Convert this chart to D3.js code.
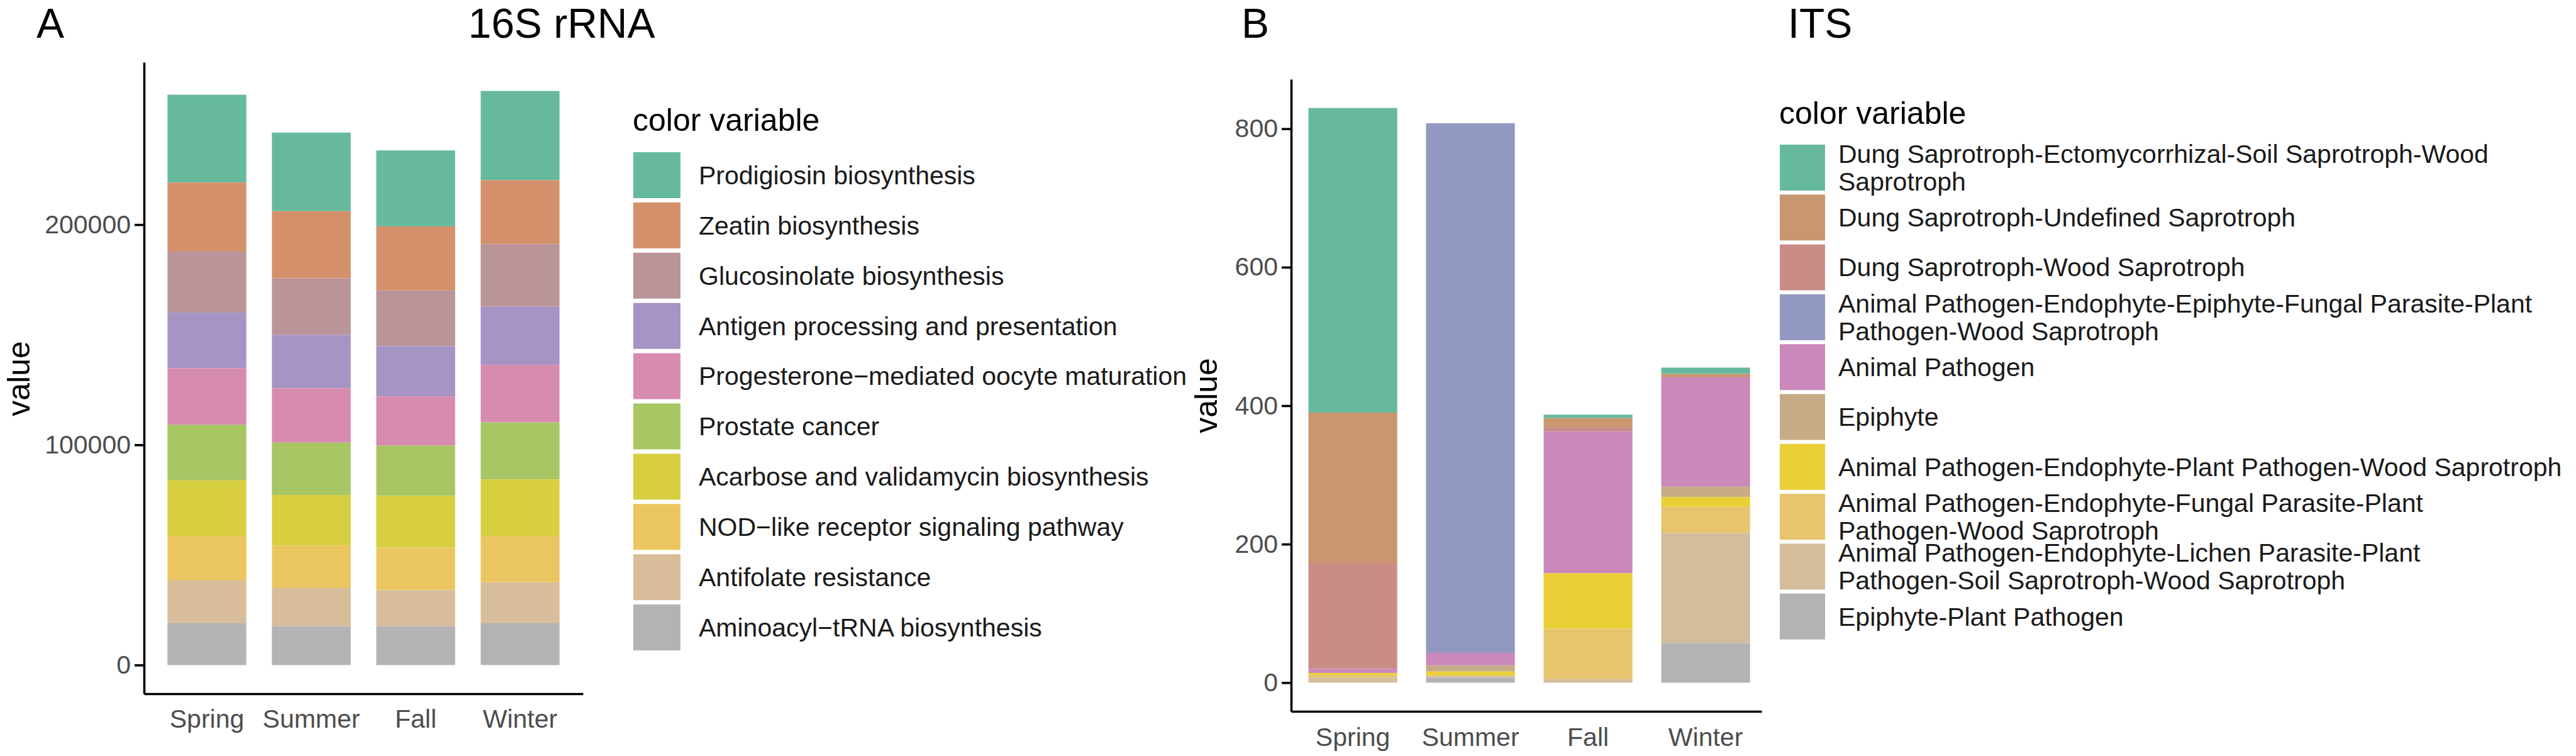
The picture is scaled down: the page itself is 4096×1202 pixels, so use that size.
<!DOCTYPE html>
<html>
<head>
<meta charset="utf-8">
<script src="https://cdn.jsdelivr.net/npm/d3@7"></script>
<style>
body { margin: 0; background: #fff; }
svg { display: block; }
text { font-family: "Liberation Sans", Arial, sans-serif; }
</style>
</head>
<body>
<svg id="chart" width="4096" height="1202"></svg>
<script>
// DATA
var seasons = ["Spring", "Summer", "Fall", "Winter"];

// panel A - 16S rRNA pathways (first one sits on top of the stack)
var pathways = [
  "Prodigiosin biosynthesis",
  "Zeatin biosynthesis",
  "Glucosinolate biosynthesis",
  "Antigen processing and presentation",
  "Progesterone\u2212mediated oocyte maturation",
  "Prostate cancer",
  "Acarbose and validamycin biosynthesis",
  "NOD\u2212like receptor signaling pathway",
  "Antifolate resistance",
  "Aminoacyl\u2212tRNA biosynthesis"
];
var pathwayColors = ["#66BA9B", "#D4906B", "#B99498", "#A594C4", "#D78BAE",
                     "#A8C664", "#D8CF40", "#EBC660", "#D7BD9A", "#B3B3B3"];
// one row per pathway, columns = seasons
var pathwayValues = [
  [39900, 35700, 34500, 40500],
  [31300, 30500, 29100, 29100],
  [27700, 25700, 25300, 28300],
  [25300, 24200, 22800, 26500],
  [25700, 24700, 22400, 26100],
  [25200, 23800, 22800, 25900],
  [25300, 23000, 23400, 25700],
  [20200, 19200, 19400, 21000],
  [19400, 17400, 16400, 18600],
  [19000, 17600, 17600, 19000]
];
var rnaTicks = [0, 100000, 200000];

// panel B - ITS guilds ("\n" = line break in legend)
var guilds = [
  "Dung Saprotroph-Ectomycorrhizal-Soil Saprotroph-Wood\nSaprotroph",
  "Dung Saprotroph-Undefined Saprotroph",
  "Dung Saprotroph-Wood Saprotroph",
  "Animal Pathogen-Endophyte-Epiphyte-Fungal Parasite-Plant\nPathogen-Wood Saprotroph",
  "Animal Pathogen",
  "Epiphyte",
  "Animal Pathogen-Endophyte-Plant Pathogen-Wood Saprotroph",
  "Animal Pathogen-Endophyte-Fungal Parasite-Plant\nPathogen-Wood Saprotroph",
  "Animal Pathogen-Endophyte-Lichen Parasite-Plant\nPathogen-Soil Saprotroph-Wood Saprotroph",
  "Epiphyte-Plant Pathogen"
];
var guildColors = ["#66BA9B", "#C99670", "#C98D86", "#9298C1", "#CA88BB",
                   "#C5AC86", "#EACF37", "#E7C46E", "#D5BC9B", "#B3B3B3"];
var guildValues = [
  [440, 0, 5, 9],
  [218, 0, 13, 5],
  [152, 0, 6, 0],
  [0, 765, 0, 0],
  [6, 18, 205, 158],
  [0, 9, 0, 15],
  [3, 6, 80, 14],
  [4, 0, 73, 38],
  [7, 3, 5, 159],
  [0, 7, 0, 57]
];
var itsTicks = [0, 200, 400, 600, 800];

// SIZES / LOOK
var tickFont = 41;
var titleFont = 50;
var headFont = 66;
var axisWidth = 3.6;
var tickGrey = "#4D4D4D";
var keyH = 73;
var labelLine = 44; // line height of wrapped legend labels

var svg = d3.select("#chart");

function buildRows(names, values){
  return seasons.map(function(s, j){
    var row = {season: s};
    names.forEach(function(n, i){ row[n] = values[i][j]; });
    return row;
  });
}

function drawPanel(p){
  var rows = buildRows(p.names, p.values);
  var totals = rows.map(function(r){ return d3.sum(p.names, function(n){ return r[n]; }); });
  var maxV = d3.max(totals);

  var x = d3.scaleBand().domain(seasons)
    .range([p.left, p.right])
    .paddingInner(0.245).paddingOuter(p.outer).align(p.align);
  var y = d3.scaleLinear().domain([-0.05 * maxV, 1.05 * maxV]).range([p.bottom, p.top]);
  var color = d3.scaleOrdinal().domain(p.names).range(p.colors);

  // first key on top of the stack
  var series = d3.stack().keys(p.names).order(d3.stackOrderReverse)(rows);

  var g = svg.append("g");
  g.selectAll("g.layer")
    .data(series)
    .enter().append("g")
    .attr("class", "layer")
    .attr("fill", function(d){ return color(d.key); })
    .selectAll("rect")
    .data(function(d){ return d; })
    .enter().append("rect")
    .attr("x", function(d){ return x(d.data.season); })
    .attr("width", x.bandwidth())
    .attr("y", function(d){ return y(d[1]); })
    .attr("height", function(d){ return Math.max(0, y(d[0]) - y(d[1])); });

  // y axis
  var yAxis = g.append("g")
    .attr("transform", "translate(" + p.left + ",0)")
    .call(d3.axisLeft(y).tickValues(p.ticks).tickFormat(d3.format("d"))
      .tickSize(15).tickPadding(6).tickSizeOuter(0));
  // x axis
  var xAxis = g.append("g")
    .attr("transform", "translate(0," + p.bottom + ")")
    .call(d3.axisBottom(x).tickSize(0).tickPadding(p.xPad).tickSizeOuter(0));

  [yAxis, xAxis].forEach(function(a){
    a.select(".domain").attr("stroke", "black").attr("stroke-width", axisWidth);
    a.selectAll(".tick line").attr("stroke", "black").attr("stroke-width", axisWidth);
    a.selectAll(".tick text")
      .attr("fill", tickGrey)
      .attr("font-size", tickFont)
      .attr("font-family", "Liberation Sans, Arial, sans-serif");
  });
  xAxis.selectAll(".tick text").attr("dy", "0.71em");

  // axis title
  g.append("text")
    .attr("transform", "translate(" + p.yTitleX + "," + p.yTitleY + ") rotate(-90)")
    .attr("text-anchor", "middle")
    .attr("font-size", titleFont)
    .attr("fill", "black")
    .text("value");

  // panel letter + title
  g.append("text").attr("x", p.letterX).attr("y", 60)
    .attr("font-size", headFont).attr("fill", "black").text(p.letter);
  g.append("text").attr("x", p.titleX).attr("y", 60)
    .attr("text-anchor", "middle")
    .attr("font-size", headFont).attr("fill", "black").text(p.title);

  // legend
  var lg = g.append("g");
  lg.append("text").attr("x", p.legX - 1).attr("y", p.legTitleY)
    .attr("font-size", titleFont).attr("fill", "black").text("color variable");

  var items = lg.selectAll("g.item")
    .data(p.names)
    .enter().append("g")
    .attr("class", "item")
    .attr("transform", function(d, i){ return "translate(" + p.legX + "," + (p.legY + i * p.legStep) + ")"; });
  items.append("rect")
    .attr("width", p.keyW).attr("height", keyH)
    .attr("fill", function(d){ return color(d); });
  items.append("text")
    .attr("x", p.labelX - p.legX)
    .attr("font-size", tickFont)
    .attr("fill", "#1A1A1A")
    .each(function(d){
      var lines = d.split("\n");
      var t = d3.select(this);
      lines.forEach(function(l, k){
        t.append("tspan")
          .attr("x", p.labelX - p.legX)
          .attr("y", keyH / 2 + (k - (lines.length - 1) / 2) * labelLine)
          .attr("dy", "0.35em")
          .text(l);
      });
    });
}

drawPanel({
  names: pathways, values: pathwayValues, colors: pathwayColors, ticks: rnaTicks,
  left: 229, right: 927, top: 99, bottom: 1103, outer: 0.225, align: 0.5, xPad: 25,
  yTitleX: 47, yTitleY: 602,
  letter: "A", letterX: 58, title: "16S rRNA", titleX: 893,
  legX: 1007, legY: 242, legStep: 79.9, keyW: 75, labelX: 1111, legTitleY: 208
});

drawPanel({
  names: guilds, values: guildValues, colors: guildColors, ticks: itsTicks,
  left: 2053, right: 2801, top: 126, bottom: 1131, outer: 0.1225, align: 0.6, xPad: 26,
  yTitleX: 1935, yTitleY: 629,
  letter: "B", letterX: 1974, title: "ITS", titleX: 2894,
  legX: 2830, legY: 230, legStep: 79.3, keyW: 72, labelX: 2923, legTitleY: 197
});
</script>
</body>
</html>
